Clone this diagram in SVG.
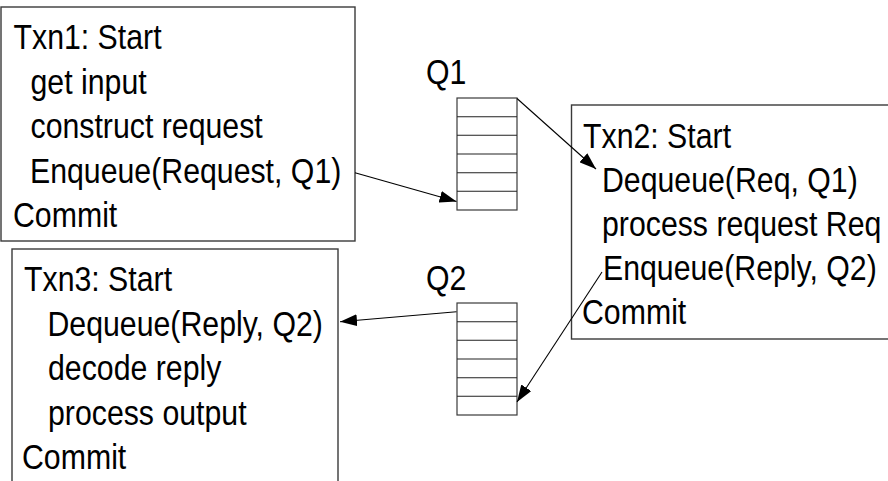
<svg xmlns="http://www.w3.org/2000/svg" width="888" height="481" viewBox="0 0 888 481">
  <style>
    .box { fill: #ffffff; stroke: #3a3a3a; stroke-width: 1.4; }
    .q { fill: #ffffff; stroke: #3a3a3a; stroke-width: 1.2; }
    .row { stroke: #222222; stroke-width: 1.1; }
    .t { font-family: "Liberation Sans", Arial, Helvetica, sans-serif; font-size: 35px; fill: #000000; }
    .link { fill: none; stroke: #000000; stroke-width: 1.1; marker-end: url(#arrow); }
  </style>
  <defs>
    <marker id="arrow" viewBox="0 0 17 12" markerWidth="17" markerHeight="12" refX="17" refY="6" orient="auto" markerUnits="userSpaceOnUse">
      <path d="M0,0 L17,6 L0,12 Z" fill="#000000"/>
    </marker>
  </defs>
  <rect width="888" height="481" fill="#ffffff"/>

  <!-- transaction 1: builds a request and puts it on Q1 -->
  <g id="txn1">
    <rect class="box" x="1" y="7" width="354" height="234"/>
    <text class="t" transform="matrix(.865 0 0 1 13.5 49.3)">Txn1: Start</text>
    <text class="t" transform="matrix(.865 0 0 1 30.5 93.8)">get input</text>
    <text class="t" transform="matrix(.865 0 0 1 30.5 138.3)">construct request</text>
    <text class="t" transform="matrix(.865 0 0 1 30 182.8)">Enqueue(Request, Q1)</text>
    <text class="t" transform="matrix(.865 0 0 1 13 227.3)">Commit</text>
  </g>

  <!-- request queue -->
  <g id="q1">
    <text class="t" transform="matrix(.865 0 0 1 426 84)">Q1</text>
    <rect class="q" x="457" y="98" width="60" height="112"/>
    <path class="row" d="M457,116.7H517M457,135.3H517M457,154H517M457,172.7H517M457,191.3H517"/>
  </g>

  <!-- transaction 2: serves the request and replies on Q2 -->
  <g id="txn2">
    <rect class="box" x="571.5" y="105" width="340" height="234"/>
    <text class="t" transform="matrix(.865 0 0 1 583 148)">Txn2: Start</text>
    <text class="t" transform="matrix(.865 0 0 1 602 192)">Dequeue(Req, Q1)</text>
    <text class="t" transform="matrix(.865 0 0 1 602 236)">process request Req</text>
    <text class="t" transform="matrix(.865 0 0 1 603 280)">Enqueue(Reply, Q2)</text>
    <text class="t" transform="matrix(.865 0 0 1 582 324)">Commit</text>
  </g>

  <!-- reply queue -->
  <g id="q2">
    <text class="t" transform="matrix(.865 0 0 1 426 290)">Q2</text>
    <rect class="q" x="457" y="303" width="60" height="112"/>
    <path class="row" d="M457,321.7H517M457,340.3H517M457,359H517M457,377.7H517M457,396.3H517"/>
  </g>

  <!-- transaction 3: takes the reply off Q2 -->
  <g id="txn3">
    <rect class="box" x="12" y="249" width="326" height="260"/>
    <text class="t" transform="matrix(.865 0 0 1 24 291)">Txn3: Start</text>
    <text class="t" transform="matrix(.865 0 0 1 47.5 335.5)">Dequeue(Reply, Q2)</text>
    <text class="t" transform="matrix(.865 0 0 1 48 380)">decode reply</text>
    <text class="t" transform="matrix(.865 0 0 1 48 424.5)">process output</text>
    <text class="t" transform="matrix(.865 0 0 1 22 469)">Commit</text>
  </g>

  <g id="connectors">
    <path class="link" d="M355,172.7L456.5,201.5"/>
    <path class="link" d="M517,98.5L596,169"/>
    <path class="link" d="M602,272L517,402"/>
    <path class="link" d="M456.5,311.7L340,321.7"/>
  </g>
</svg>
